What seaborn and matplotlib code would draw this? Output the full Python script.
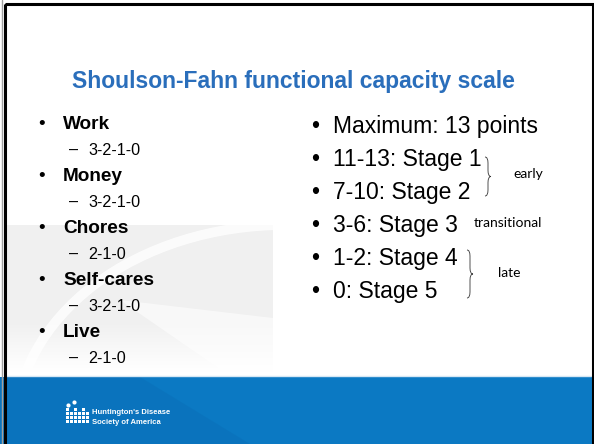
import numpy as np
import seaborn as sns
import matplotlib.pyplot as plt
from matplotlib.patches import Rectangle, Polygon, Arc, PathPatch
from matplotlib.path import Path

# slide content
title = "Shoulson-Fahn functional capacity scale"
domains = ["Work", "Money", "Chores", "Self-cares", "Live"]
domain_ranges = ["3-2-1-0", "3-2-1-0", "2-1-0", "3-2-1-0", "2-1-0"]
stage_lines = ["Maximum: 13 points", "11-13: Stage 1", "7-10: Stage 2",
               "3-6: Stage 3", "1-2: Stage 4", "0: Stage 5"]
phase_labels = ["early", "transitional", "late"]
logo_lines = ["Huntington's Disease", "Society of America"]

sns.set_theme(style="white")
plt.rcParams['font.family'] = ['Liberation Sans', 'DejaVu Sans']

fig = plt.figure(figsize=(5.94, 4.44), dpi=100)
ax = fig.add_axes([0, 0, 1, 1])
ax.set_xlim(0, 594)
ax.set_ylim(444, 0)
ax.axis('off')

# grey background block with fade at the bottom
ys = np.linspace(225, 376, 200)
alpha = np.clip((372 - ys) / 50, 0, 1)
grad = np.zeros((len(ys), 1, 4))
grad[..., :3] = 0.945
grad[:, 0, 3] = alpha
ax.imshow(grad, extent=[6, 273, 376, 225], aspect='auto', zorder=0,
          interpolation='bilinear')
ax.add_patch(Arc((285, 430), 540, 410, theta1=180, theta2=270,
                 color='white', lw=7, alpha=0.8, zorder=0.5))
ax.add_patch(Polygon([(120, 300), (273, 318), (273, 376), (230, 376)],
                     closed=True, color='white', alpha=0.55, lw=0, zorder=0.5))

# bottom band
ax.add_patch(Rectangle((0, 377), 594, 70, color='#0b79c3', lw=0, zorder=1))
ax.add_patch(Polygon([(0, 377), (140, 377), (250, 444), (0, 444)],
                     closed=True, color='#0a6cb4', alpha=0.4, lw=0, zorder=1))
ax.plot([6, 591], [376, 376], color='#d6e7f4', lw=1.0, zorder=1)

# logo
for cx in range(6):
    for cy in range(4 if cx % 2 == 0 else 3):
        ax.add_patch(Rectangle((66 + cx * 4, 420 - cy * 4), 3, 3,
                               color='white', lw=0, zorder=2))
ax.scatter([68, 74], [405, 402], s=9, color='white', zorder=2, lw=0)
for i, line in enumerate(logo_lines):
    ax.text(92, 414 + i * 9.5, line, color='white', fontsize=5.5,
            fontweight='bold', va='baseline', zorder=3)

# frame
ax.add_patch(Rectangle((4.5, 4.5), 588, 460, fill=False, ec='black',
                       lw=2.2, zorder=5, clip_on=False))
ax.plot([1.5, 1.5], [0, 444], color='#a0a0a0', lw=1, zorder=5)

# title
ax.text(293, 88, title, color='#2a6ebb', fontsize=16.5, fontweight='bold',
        ha='center', va='baseline')

# left column
for i, (d, r) in enumerate(zip(domains, domain_ranges)):
    yb = 129 + 52 * i
    ax.text(42, yb, "\u2022", fontsize=13.7, ha='center', va='baseline',
            color='black')
    ax.text(63, yb, d, fontsize=13.7, fontweight='bold', va='baseline',
            color='black')
    ys_ = yb + 26
    ax.text(74, ys_, "\u2013", fontsize=11.6, ha='center', va='baseline',
            color='black')
    ax.text(88, ys_, r, fontsize=11.6, va='baseline', color='black')

# right column
for i, s in enumerate(stage_lines):
    yb = 133 + 33 * i
    ax.text(315, yb, "\u2022", fontsize=16.5, ha='center', va='baseline',
            color='black')
    ax.text(333, yb, s, fontsize=16.5, va='baseline', color='black')


def brace(x0, top, bottom, w=3):
    mid = (top + bottom) / 2
    verts = [(x0, top), (x0 + w, top), (x0 + w, top + 2 * w),
             (x0 + w, mid - 2 * w), (x0 + w, mid), (x0 + 2 * w, mid),
             (x0 + 2 * w, mid), (x0 + w, mid), (x0 + w, mid + 2 * w),
             (x0 + w, bottom - 2 * w), (x0 + w, bottom), (x0, bottom)]
    codes = [Path.MOVETO, Path.CURVE3, Path.CURVE3, Path.LINETO,
             Path.CURVE3, Path.CURVE3, Path.MOVETO, Path.CURVE3, Path.CURVE3,
             Path.LINETO, Path.CURVE3, Path.CURVE3]
    ax.add_patch(PathPatch(Path(verts, codes), fill=False, ec='#333333',
                           lw=0.6))


brace(485, 157, 196)
brace(467, 250, 298)
ax.text(513, 178, phase_labels[0], fontsize=10, family='Lato',
        va='baseline', color='black')
ax.text(474, 227, phase_labels[1], fontsize=10, family='Lato',
        va='baseline', color='black')
ax.text(498, 277, phase_labels[2], fontsize=10, family='Lato',
        va='baseline', color='black')

fig.savefig("out.png", dpi=100)
